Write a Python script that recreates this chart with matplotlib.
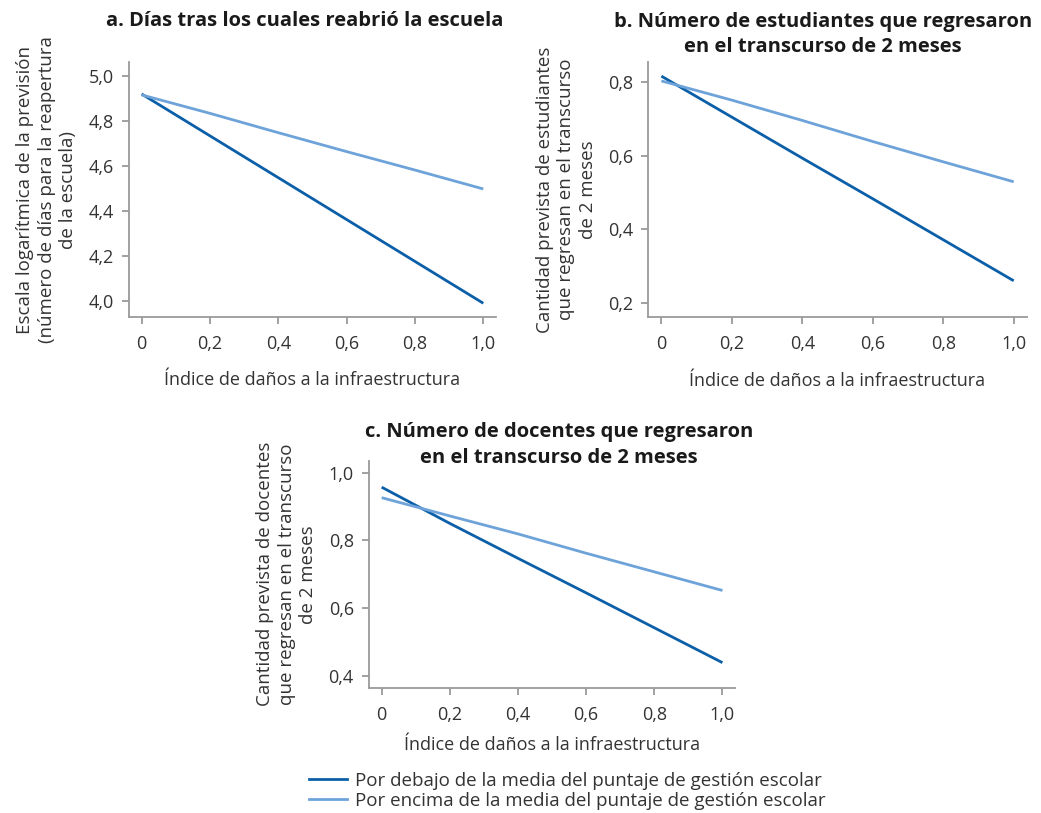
import matplotlib
matplotlib.use("Agg")
import matplotlib.pyplot as plt
from matplotlib.lines import Line2D

plt.rcParams['font.family'] = ['Open Sans', 'DejaVu Sans']

# Infrastructure damage index (x values shared by all panels)
damage = [0.0, 0.2, 0.4, 0.6, 0.8, 1.0]

# a. Log of predicted days until reopening
days_below = [4.92, 4.734, 4.548, 4.362, 4.176, 3.99]
days_above = [4.916, 4.834, 4.748, 4.664, 4.582, 4.498]

# b. Predicted students returning within 2 months
students_below = [0.815, 0.704, 0.593, 0.483, 0.372, 0.261]
students_above = [0.802, 0.750, 0.695, 0.638, 0.583, 0.529]

# c. Predicted teachers returning within 2 months
teachers_below = [0.957, 0.850, 0.747, 0.645, 0.542, 0.439]
teachers_above = [0.926, 0.872, 0.819, 0.762, 0.707, 0.652]

x_ticks = [0, 0.2, 0.4, 0.6, 0.8, 1.0]
x_ticklabels = ["0", "0,2", "0,4", "0,6", "0,8", "1,0"]

legend_labels = ["Por debajo de la media del puntaje de gestión escolar",
                 "Por encima de la media del puntaje de gestión escolar"]

DARK = "#0b5fa8"
LIGHT = "#6ea3da"
SPINE = "#9a9a9a"
TEXT = "#333333"
TITLE = "#1a1a1a"

W, H = 1041, 813
fig = plt.figure(figsize=(W / 100, H / 100), dpi=100)


def style_panel(ax, ylabel, yticks, yticklabels, ylim, xpad):
    ax.set_xlim(-0.037, 1.037)
    ax.set_ylim(*ylim)
    ax.set_xticks(x_ticks)
    ax.set_xticklabels(x_ticklabels)
    ax.set_yticks(yticks)
    ax.set_yticklabels(yticklabels)
    for side in ("top", "right"):
        ax.spines[side].set_visible(False)
    for side in ("left", "bottom"):
        ax.spines[side].set_color(SPINE)
        ax.spines[side].set_linewidth(1.3)
    ax.tick_params(axis="both", colors=SPINE, length=5, width=1.3,
                   labelcolor=TEXT, labelsize=13)
    ax.tick_params(axis="x", pad=8)
    ax.tick_params(axis="y", pad=6)
    ax.set_xlabel("Índice de daños a la infraestructura", fontsize=13,
                  color=TEXT, labelpad=xpad)
    ax.set_ylabel(ylabel, fontsize=13.5, color=TEXT, labelpad=8,
                  linespacing=1.25)


def title_lines(lines, cx, baselines):
    for text, yb in zip(lines, baselines):
        fig.text(cx / W, 1 - yb / H, text, ha="center", va="baseline",
                 fontsize=14.5, fontweight="bold", color=TITLE)


ax_a = fig.add_axes([0.1239, 0.6101, 0.3525, 0.3136])
ax_a.plot(damage, days_below, color=DARK, lw=2.0, solid_capstyle="butt")
ax_a.plot(damage, days_above, color=LIGHT, lw=2.0, solid_capstyle="butt")
style_panel(ax_a,
            "Escala logarítmica de la previsión\n(número de días para la reapertura\nde la escuela)",
            [4.0, 4.2, 4.4, 4.6, 4.8, 5.0],
            ["4,0", "4,2", "4,4", "4,6", "4,8", "5,0"], (3.929, 5.062), 13)
title_lines(["a. Días tras los cuales reabrió la escuela"], 305, [26])

ax_b = fig.add_axes([0.6228, 0.6101, 0.3635, 0.314])
ax_b.plot(damage, students_below, color=DARK, lw=2.0, solid_capstyle="butt")
ax_b.plot(damage, students_above, color=LIGHT, lw=2.0, solid_capstyle="butt")
style_panel(ax_b,
            "Cantidad prevista de estudiantes\nque regresan en el transcurso\nde 2 meses",
            [0.2, 0.4, 0.6, 0.8], ["0,2", "0,4", "0,6", "0,8"], (0.163, 0.854), 14)
title_lines(["b. Número de estudiantes que regresaron",
             "en el transcurso de 2 meses"], 823, [27, 52])

ax_c = fig.add_axes([0.3545, 0.1541, 0.3516, 0.2792])
ax_c.plot(damage, teachers_below, color=DARK, lw=2.0, solid_capstyle="butt")
ax_c.plot(damage, teachers_above, color=LIGHT, lw=2.0, solid_capstyle="butt")
style_panel(ax_c,
            "Cantidad prevista de docentes\nque regresan en el transcurso\nde 2 meses",
            [0.4, 0.6, 0.8, 1.0], ["0,4", "0,6", "0,8", "1,0"], (0.365, 1.035), 9)
title_lines(["c. Número de docentes que regresaron",
             "en el transcurso de 2 meses"], 559, [437, 463])

handles = [Line2D([], [], color=DARK, lw=2.0), Line2D([], [], color=LIGHT, lw=2.0)]
fig.legend(handles, legend_labels, loc="center", bbox_to_anchor=(0.545, 0.0272),
           frameon=False, fontsize=13.5, labelcolor=TEXT, handlelength=2.0,
           handletextpad=0.45, labelspacing=0.12, borderpad=0)

fig.savefig("out.png", dpi=100)
